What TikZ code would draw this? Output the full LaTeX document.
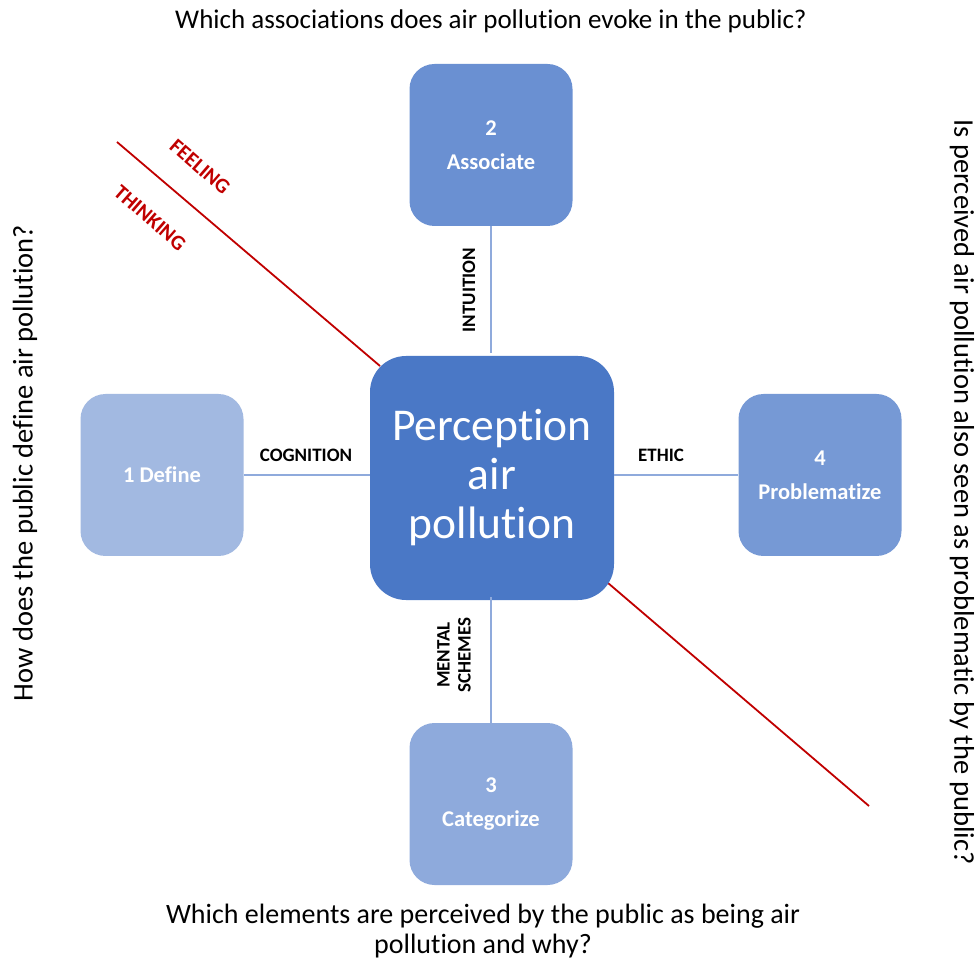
\documentclass[tikz,border=0pt]{standalone}
\usepackage{fontspec}
\setmainfont{Carlito}[Ligatures=NoCommon]
\definecolor{cmain}{HTML}{4A78C6}
\definecolor{cassoc}{HTML}{6A90D2}
\definecolor{cprob}{HTML}{7699D5}
\definecolor{ccat}{HTML}{8EAADC}
\definecolor{cdef}{HTML}{A2B9E1}
\definecolor{cconn}{HTML}{8FAADC}
\definecolor{cred}{HTML}{C00000}
\begin{document}
\begin{tikzpicture}[x=1pt,y=-1pt,
  stepbox/.style={draw=none, rounded corners=25pt, minimum width=163pt, minimum height=162pt,
    text=white, align=center, font=\fontsize{22.5}{34}\selectfont\bfseries, inner sep=0pt},
  mainbox/.style={fill=cmain, rounded corners=36pt, minimum width=244pt, minimum height=244pt,
    text=white, align=center, font=\fontsize{45.5}{49}\selectfont, inner sep=0pt},
  conn/.style={draw=cconn, line width=2pt},
  redline/.style={draw=cred, line width=1.8pt},
  linklabel/.style={font=\fontsize{19}{21}\selectfont\bfseries, text=black, align=center, inner sep=0pt},
  redlabel/.style={font=\fontsize{21}{23}\selectfont\bfseries, text=cred, inner sep=0pt},
  question/.style={font=\fontsize{27}{30}\selectfont, text=black, align=center, inner sep=0pt},
  sidequestion/.style={font=\fontsize{28.5}{32}\selectfont, text=black, align=center, inner sep=0pt}
]
\useasboundingbox (0,0) rectangle (978,965);

% red divider
\coordinate (ra) at (117,142);
\coordinate (rb) at (380,366);
\coordinate (rc) at (608,583);
\coordinate (rd) at (869,806);
\draw[redline] (ra) -- (rb);
\draw[redline] (rc) -- (rd);

% boxes
\node[mainbox] (c) at (492,478) {Perception\\air\\pollution};
\node[stepbox, fill=cassoc] (b2) at (491,145) {2\\Associate};
\node[stepbox, fill=cdef] (b1) at (162,475) {1 Define};
\node[stepbox, fill=cprob] (b4) at (820,475) {4\\Problematize};
\node[stepbox, fill=ccat] (b3) at (491,804) {3\\Categorize};

% connectors
\draw[conn] (b2.south) -- (491,353);
\draw[conn] (491,597) -- (b3.north);
\draw[conn] (b1.east) -- (370,475);
\draw[conn] (614,475) -- (b4.west);

% connector labels
\node[linklabel, rotate=90] (lint) at (469,290) {INTUITION};
\node[linklabel, rotate=90] (lmen) at (454,655) {MENTAL\\SCHEMES};
\node[linklabel] (lcog) at (306,455) {COGNITION};
\node[linklabel] (leth) at (661,455) {ETHIC};

% red labels
\node[redlabel, rotate=-41] (lfeel) at (200,167) {FEELING};
\node[redlabel, rotate=-41] (lthink) at (150,218) {THINKING};

% questions
\node[question] (qtop) at (491,21) {Which associations does air pollution evoke in the public?};
\node[question, font=\fontsize{28}{30}\selectfont] (qbot) at (483,931) {Which elements are perceived by the public as being air\\pollution and why?};
\node[sidequestion, rotate=90] (qleft) at (25,463) {How does the public define air pollution?};
\node[sidequestion, rotate=-90] (qright) at (962,492) {Is perceived air pollution also seen as problematic by the public?};
\end{tikzpicture}
\end{document}
